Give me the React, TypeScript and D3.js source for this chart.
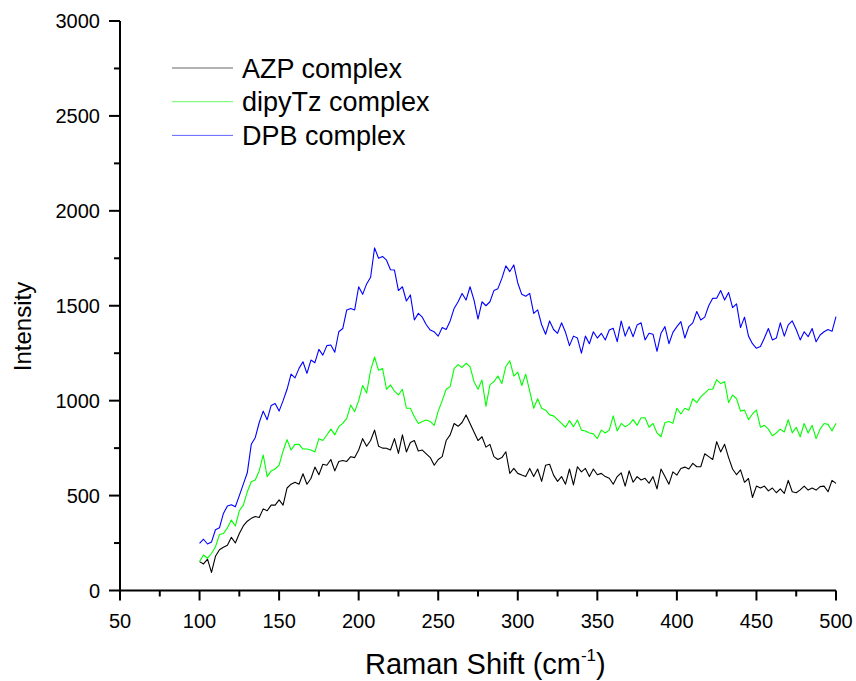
import React from "react";
import * as d3 from "d3";

const SHIFT_START = 100;
const SHIFT_STEP = 2.5;

const azp = [152,140,165,95,180,215,228,238,280,250,300,340,365,380,390,385,430,420,450,450,
477,450,540,560,570,560,615,560,590,650,610,665,660,690,630,680,685,680,705,700,
740,800,760,790,845,760,750,749,740,800,722,820,730,780,790,735,740,720,700,660,
690,705,790,820,880,865,885,925,880,835,790,810,755,770,705,690,700,731,617,643,
617,608,600,643,600,640,575,660,665,608,575,600,560,640,556,652,625,643,600,640,
610,617,600,591,560,600,620,550,630,570,600,582,591,565,600,535,640,600,560,625,
608,643,650,640,670,652,652,720,705,690,784,730,770,700,640,610,635,570,590,490,
550,540,550,525,540,515,535,512,580,520,515,530,550,529,540,529,547,550,520,580,564];

const dipyTz = [152,187,170,195,230,295,300,330,371,340,420,450,520,573,582,630,714,600,630,640,
660,735,795,740,770,770,745,745,740,730,800,790,819,850,820,863,880,907,977,942,
1000,1080,1040,1160,1230,1160,1170,1060,1083,1050,1030,1060,960,960,915,880,890,898,890,870,
945,1000,1060,1074,1170,1190,1175,1197,1179,1100,1060,1109,970,1083,1100,1130,1090,1180,1210,1130,
1150,1080,1140,1050,960,1010,960,950,925,920,900,880,860,895,863,898,845,840,830,825,
800,845,830,845,920,840,880,863,875,900,870,910,910,860,880,830,810,885,890,881,
960,930,960,950,1010,990,1020,1040,1060,1060,1110,1090,1100,990,1030,1010,945,950,900,930,
950,860,870,850,815,830,850,835,900,830,860,810,880,830,870,800,850,880,875,840,881];

const dpb = [248,270,245,255,320,330,406,445,452,441,500,560,620,770,805,885,945,900,975,985,
945,1000,1060,1140,1120,1170,1205,1144,1214,1200,1270,1240,1290,1293,1255,1363,1380,1478,1486,1478,
1600,1560,1615,1650,1805,1750,1760,1740,1690,1688,1580,1600,1525,1557,1425,1460,1440,1400,1372,1363,
1340,1385,1375,1420,1486,1521,1565,1530,1600,1530,1430,1521,1500,1521,1580,1590,1644,1710,1680,1715,
1620,1560,1550,1565,1460,1478,1400,1350,1420,1375,1355,1410,1360,1290,1340,1330,1250,1340,1300,1363,
1330,1355,1320,1372,1381,1311,1420,1340,1390,1337,1399,1410,1320,1355,1350,1260,1355,1390,1300,1360,
1390,1416,1330,1390,1410,1470,1425,1440,1500,1539,1540,1580,1530,1570,1490,1510,1385,1440,1340,1300,
1276,1285,1330,1380,1320,1330,1410,1340,1399,1420,1375,1320,1363,1337,1380,1310,1346,1363,1375,1365,1443];

const seriesNames = ["AZP complex", "dipyTz complex", "DPB complex"];
const seriesColors = ["#000000", "#00ff00", "#0000ff"];
const seriesValues = [azp, dipyTz, dpb];

const xTicks = [50, 100, 150, 200, 250, 300, 350, 400, 450, 500];
const xMinor = [75, 125, 175, 225, 275, 325, 375, 425, 475];
const yTicks = [0, 500, 1000, 1500, 2000, 2500, 3000];
const yMinor = [250, 750, 1250, 1750, 2250, 2750];

export default function App() {
  const W = 856, H = 681;
  const x = d3.scaleLinear().domain([50, 500]).range([120, 836]);
  const y = d3.scaleLinear().domain([0, 3000]).range([590.5, 21]);
  const font = "'Liberation Sans', Arial, Helvetica, sans-serif";
  const line = d3
    .line<number>()
    .x((_, i) => x(SHIFT_START + i * SHIFT_STEP))
    .y((v) => y(v));

  return (
    <svg width={W} height={H} style={{ position: "absolute", left: 0, top: 0 }} fontFamily={font}>
      <rect width={W} height={H} fill="#fff" />
      {seriesValues.map((vals, k) => (
        <path key={k} d={line(vals) || ""} fill="none" stroke={seriesColors[k]} strokeWidth={1.1} strokeLinejoin="round" />
      ))}
      {/* axes */}
      <line x1={x(50)} x2={x(500)} y1={y(0)} y2={y(0)} stroke="#000" strokeWidth={2} />
      <line x1={x(50)} x2={x(50)} y1={y(0) + 1} y2={y(3000)} stroke="#000" strokeWidth={2} />
      {xTicks.map((t) => (
        <g key={"xt" + t}>
          <line x1={x(t)} x2={x(t)} y1={y(0)} y2={y(0) + 10} stroke="#000" strokeWidth={2} />
          <text x={x(t)} y={y(0) + 37} fontSize={20} textAnchor="middle">{t}</text>
        </g>
      ))}
      {xMinor.map((t) => (
        <line key={"xm" + t} x1={x(t)} x2={x(t)} y1={y(0)} y2={y(0) + 6} stroke="#000" strokeWidth={2} />
      ))}
      {yTicks.map((t) => (
        <g key={"yt" + t}>
          <line x1={x(50) - 11} x2={x(50)} y1={y(t)} y2={y(t)} stroke="#000" strokeWidth={2} />
          <text x={x(50) - 20} y={y(t) + 7} fontSize={20} textAnchor="end">{t}</text>
        </g>
      ))}
      {yMinor.map((t) => (
        <line key={"ym" + t} x1={x(50) - 6} x2={x(50)} y1={y(t)} y2={y(t)} stroke="#000" strokeWidth={2} />
      ))}
      {/* axis titles */}
      <text transform="translate(31,326.5) rotate(-90)" fontSize={24} textAnchor="middle">Intensity</text>
      <text x={365} y={674} fontSize={29}>
        Raman Shift (cm<tspan fontSize={17} dy={-13}>-1</tspan><tspan dy={13}>)</tspan>
      </text>
      {/* legend */}
      {seriesNames.map((n, k) => (
        <g key={n}>
          <line x1={172} x2={233} y1={68 + k * 33.7} y2={68 + k * 33.7} stroke={seriesColors[k]} strokeWidth={1} opacity={0.6} />
          <text x={242} y={77.5 + k * 33.7} fontSize={27}>{n}</text>
        </g>
      ))}
    </svg>
  );
}
